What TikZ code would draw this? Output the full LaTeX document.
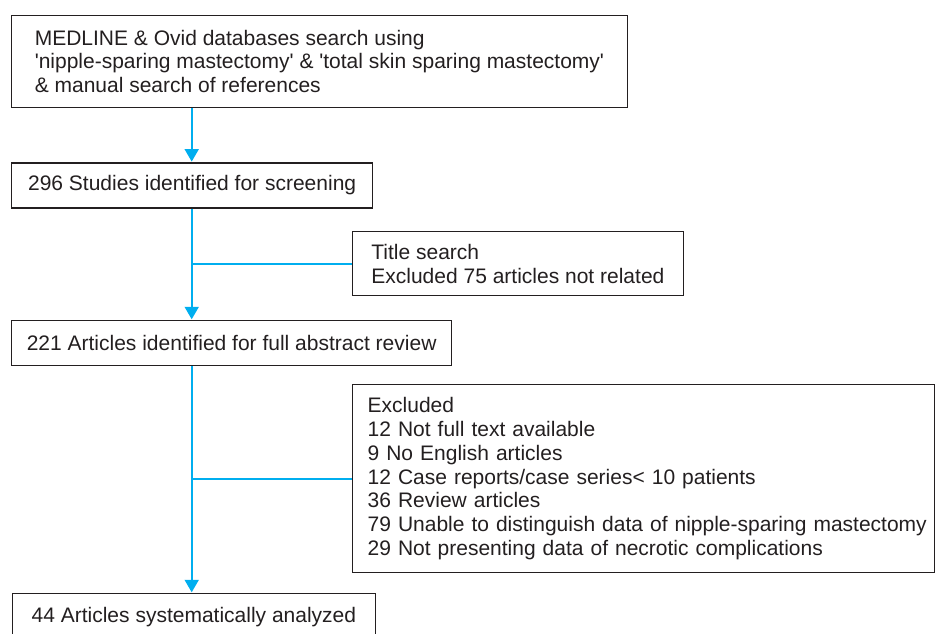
\documentclass[tikz,border=0pt]{standalone}
\usepackage{fontspec}
\setmainfont{Liberation Sans}
\usetikzlibrary{arrows.meta, positioning}

\definecolor{flowblue}{HTML}{00AEEF}
\definecolor{boxgray}{HTML}{231F20}

\begin{document}
\begin{tikzpicture}[x=1pt, y=-1pt]

  % Define styles
  \tikzstyle{box} = [rectangle, draw=boxgray, line width=1.3pt, text=boxgray, anchor=north west,
                     font=\fontsize{21}{23.7}\selectfont, inner sep=0pt]
  \tikzstyle{flow} = [draw=flowblue, line width=1.8pt]
  \tikzstyle{flow_arrow} = [flow, -{Triangle[length=12.5pt, width=14pt]}, shorten >=0.7pt]

  \useasboundingbox (0,0) rectangle (936,633);

  % Main column
  \node[box, align=left, minimum width=616.5pt, minimum height=91.8pt] (search) at (10.5, 14.7)
    {MEDLINE \& Ovid databases search using\\
     \textquotesingle nipple-sparing mastectomy\textquotesingle{} \& \textquotesingle total skin sparing mastectomy\textquotesingle\\
     \& manual search of references};
  \node[box, minimum width=361pt, minimum height=45pt] (studies) at (11, 162.3)
    {296 Studies identified for screening};
  \node[box, minimum width=440pt, minimum height=45pt] (abstracts) at (11, 320)
    {221 Articles identified for full abstract review};
  \node[box, minimum width=363.5pt, minimum height=47pt] (analyzed) at (11.5, 593)
    {44 Articles systematically analyzed};

  % Exclusion boxes
  \node[box, align=left, minimum width=331.5pt, minimum height=64pt] (title) at (351.5, 231)
    {Title search\\
     Excluded 75 articles not related};
  \node[box, align=left, text width=551pt, inner xsep=15.5pt, minimum height=188pt] (excluded) at (351.5, 384)
    {Excluded\\
     12 Not full text available\\
     9 No English articles\\
     12 Case reports/case series< 10 patients\\
     36 Review articles\\
     \mbox{79 Unable to distinguish data of nipple-sparing mastectomy}\\
     29 Not presenting data of necrotic complications};

  % Connections
  \coordinate (spine) at (191.7, 0);
  \draw[flow_arrow] (search.south -| spine) -- (studies.north -| spine);
  \draw[flow_arrow] (studies.south -| spine) -- (abstracts.north -| spine);
  \draw[flow_arrow] (abstracts.south -| spine) -- (analyzed.north -| spine);
  \draw[flow] (title.west -| spine) -- (title.west);
  \draw[flow] (excluded.west -| spine) -- (excluded.west);

\end{tikzpicture}
\end{document}
